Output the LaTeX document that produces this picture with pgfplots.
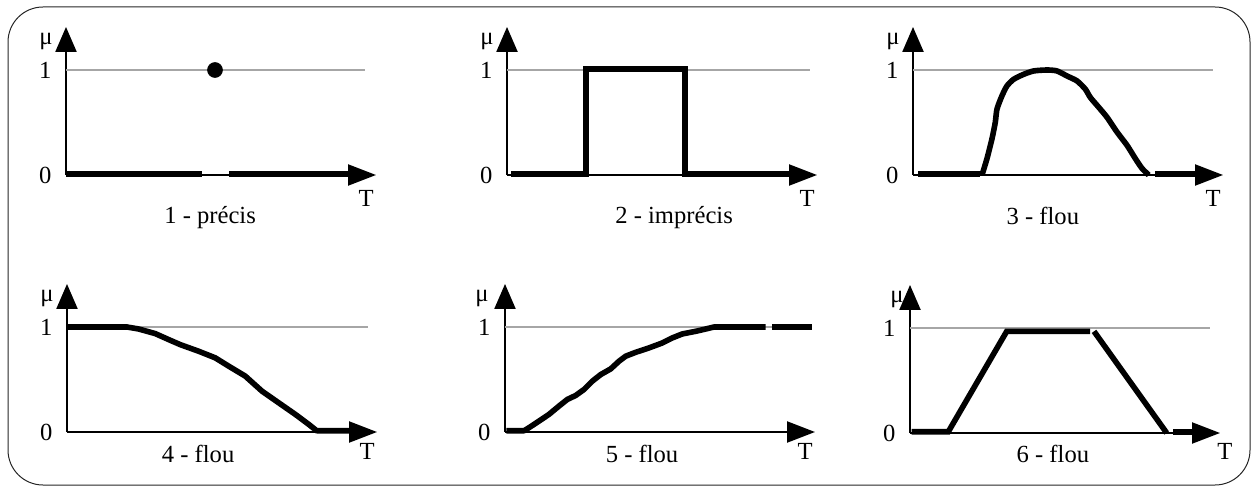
\documentclass[border=0pt]{standalone}
\usepackage{fontspec}
\setmainfont{Liberation Serif}
\usepackage{pgfplots}
\pgfplotsset{compat=1.18}
\usetikzlibrary{arrows.meta}

% one style for the six little membership-function panels
\pgfplotsset{
  fz/.style={
    x=0.5pt, y=52.5pt, xmin=0, xmax=310, ymin=0, ymax=1.41,
    anchor=origin, clip=false, axis lines=left,
    axis line style={line width=1.1pt, black},
    x axis line style={-{Triangle[length=14pt,width=10.5pt]}},
    y axis line style={-{Triangle[length=12.5pt,width=10.5pt]}},
    xtick=\empty, ytick={0,1}, yticklabels={0,1}, major tick length=0pt,
    yticklabel style={xshift=-3pt},
    /pgf/number format/assume math mode=true,
    ylabel={μ}, xlabel={T},
    ylabel style={rotate=-90, at={(axis description cs:0,0.90)}, anchor=center, xshift=-10pt},
    xlabel style={at={(axis description cs:0.968,0)}, anchor=center, yshift=-11.5pt},
    title style={anchor=center},
  },
  thk/.style={black, line width=2.8pt, line join=round},
  ref/.style={gray!70, line width=0.6pt},
}

\begin{document}
\fontsize{12.3}{14}\selectfont
\begin{tikzpicture}
\useasboundingbox (0,0) rectangle (626pt,-243pt);
\draw[line width=0.5pt, black!85, rounded corners=17.5pt] (4pt,-3.5pt) rectangle (625pt,-242.5pt);

% 1 - precis
\begin{axis}[fz, at={(33pt,-87.5pt)},
  title={1 - précis}, title style={at={(axis description cs:0.465,0)}, yshift=-27.5pt}]
\addplot[ref] coordinates {(0,1) (299,1)};
\addplot[thk] coordinates {(0,0.012) (136,0.012)};
\addplot[thk] coordinates {(163,0.012) (285,0.012)};
\addplot[only marks, mark=*, mark size=3.7pt, black] coordinates {(149,1)};
\end{axis}

% 2 - imprecis
\begin{axis}[fz, at={(253.5pt,-87.5pt)},
  title={2 - imprécis}, title style={at={(axis description cs:0.539,0)}, yshift=-27.5pt}]
\addplot[ref] coordinates {(0,1) (303,1)};
\addplot[thk, line join=miter] coordinates {(4,0.012) (79,0.012) (79,1.01) (178,1.01) (178,0.012) (285,0.012)};
\end{axis}

% 3 - flou
\begin{axis}[fz, at={(456.5pt,-87.5pt)},
  title={3 - flou}, title style={at={(axis description cs:0.419,0)}, yshift=-26.5pt}]
\addplot[ref] coordinates {(0,1) (300,1)};
\addplot[thk] coordinates {(5,0.012) (67,0.012)};
\addplot[thk, smooth, tension=0.4] coordinates {
  (69,0) (74,0.157) (79,0.346) (82.3,0.503) (84,0.629) (89,0.755) (94,0.849)
  (100.7,0.912) (110.7,0.959) (120.7,0.991) (134,1.0) (144,0.991) (154,0.943)
  (164,0.896) (172.3,0.818) (177.3,0.739) (185.7,0.645) (194,0.55) (204,0.409)
  (214,0.283) (222.3,0.157) (229,0.063) (235.7,0)};
\addplot[thk] coordinates {(242,0.012) (285,0.012)};
\end{axis}

% 4 - flou
\begin{axis}[fz, at={(33.5pt,-216pt)},
  title={4 - flou}, title style={at={(axis description cs:0.423,0)}, yshift=-17pt},
  xlabel style={yshift=2pt}]
\addplot[ref] coordinates {(0,1) (301,1)};
\addplot[thk] coordinates {
  (0,1) (60,1) (71.7,0.981) (88.3,0.937) (101.7,0.880) (113.3,0.832) (131.7,0.769)
  (148.3,0.706) (161.7,0.627) (178.3,0.532) (195,0.389) (211.7,0.278) (228.3,0.168)
  (241.7,0.073) (250,0.01) (251,0.012) (285,0.012)};
\end{axis}

% 5 - flou
\begin{axis}[fz, at={(252.5pt,-216pt)},
  title={5 - flou}, title style={at={(axis description cs:0.442,0)}, yshift=-17pt},
  xlabel style={yshift=2pt}, ylabel style={xshift=-1.5pt}]
\addplot[ref] coordinates {(0,1) (300,1)};
\addplot[thk] coordinates {
  (1.3,0.012) (19,0.012) (24,0.041) (34,0.104) (44,0.168) (54,0.247) (62.3,0.310)
  (70.7,0.348) (79,0.405) (87.3,0.484) (95.7,0.547) (105.7,0.601) (114,0.674)
  (120.7,0.722) (130.7,0.759) (144,0.801) (157.3,0.848) (167.3,0.896) (177.3,0.934)
  (190.7,0.959) (200.7,0.981) (209,1.0) (260.7,1.0)};
\addplot[thk] coordinates {(267.3,1.0) (307.3,1.0)};
\end{axis}

% 6 - flou
\begin{axis}[fz, at={(455pt,-216.5pt)},
  title={6 - flou}, title style={at={(axis description cs:0.461,0)}, yshift=-16.5pt},
  xlabel style={at={(axis description cs:1.016,0)}, yshift=2.5pt},
  ylabel style={xshift=3.5pt}]
\addplot[ref] coordinates {(0,1) (300,1)};
\addplot[thk, line join=miter] coordinates {(1.7,0.012) (38.3,0.012) (96.7,0.968) (180,0.968)};
\addplot[thk] coordinates {(184,0.968) (256.7,0)};
\addplot[thk] coordinates {(263.3,0.012) (285,0.012)};
\end{axis}
\end{tikzpicture}
\end{document}
